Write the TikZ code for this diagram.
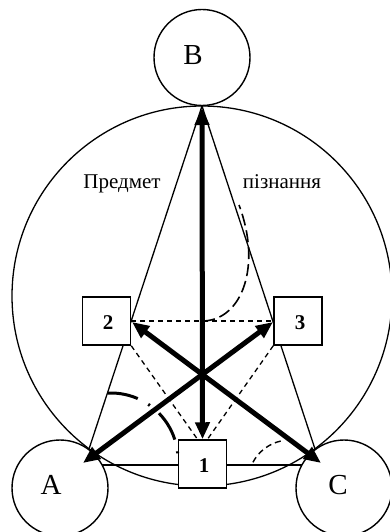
\documentclass[tikz,border=0pt]{standalone}
\usepackage{fontspec}
\setmainfont{Liberation Serif}
\usetikzlibrary{arrows.meta}
\begin{document}
\begin{tikzpicture}[x=1pt,y=-1pt,
  thin line/.style={line width=1.3pt},
  box/.style={draw,line width=1.5pt,fill=white,minimum width=48pt,minimum height=48pt,inner sep=0pt},
  num/.style={font=\fontsize{21}{21}\selectfont\bfseries},
  ring/.style={draw,line width=1.4pt,fill=white,circle,minimum size=96pt,inner sep=0pt},
  big/.style={-,line width=5pt,{Triangle[length=17pt,width=14pt]}-{Triangle[length=17pt,width=14pt]}},
  dsh/.style={line width=1.3pt,dash pattern=on 5pt off 4pt},
  lab/.style={font=\fontsize{29}{29}\selectfont},
  txt/.style={font=\fontsize{21}{21}\selectfont,anchor=base}]
\useasboundingbox (0,0) rectangle (389,532);
% big circle
\draw[line width=1.3pt] (202,296) circle[radius=190pt];
% tangent points
\coordinate (TB) at (202,106);
\coordinate (TA) at (89,449);
\coordinate (TC) at (315,449);
\coordinate (HA) at (60,465);
\coordinate (HC) at (344,465);
% thin lines
\draw[thin line] (TB) -- (TA);
\draw[thin line] (TB) -- (TC);
\draw[thin line] (HA) -- (HC);
% circles
\node[ring] (B) at (202,57.5) {};
\node[ring] (A) at (60,488) {};
\node[ring] (C) at (344,488) {};
\node[lab] (lB) at (193,55) {B};
\node[lab] (lA) at (51,485) {A};
\node[lab] (lC) at (338,485) {C};
% boxes
\node[box] (n1) at (202.5,464) {};
\node[box] (n2) at (106.5,321) {};
\node[box] (n3) at (298,321) {};
\node[num] (l1) at (204,466) {1};
\node[num] (l2) at (108,323) {2};
\node[num] (l3) at (300,323) {3};
% dashed lines
\draw[dsh] (n2.east) -- (n3.west);
\draw[dsh] (n2.south east) -- ([xshift=-5pt]n1.north);
\draw[dsh] (n3.south west) -- ([xshift=5pt]n1.north);
% dashed arc top right
\draw[line width=1.6pt,dash pattern=on 12pt off 5pt] (203,321) .. controls (242,320) and (262,266) .. (239,205);
% dash-dot arc near A
\draw[line width=3pt,dash pattern=on 31pt off 12pt on 2pt off 12pt] (111,460) ++(93:67pt) arc[start angle=93,end angle=2,radius=67pt];
% dashed arc near C
\draw[line width=1.4pt,dash pattern=on 6pt off 4pt] (290,482) ++(152:42pt) arc[start angle=152,end angle=102,radius=42pt];
% thick arrows
\coordinate (tA) at (83,463);
\coordinate (tC) at (321,463);
\coordinate (t2) at (132,322);
\coordinate (t3) at (273,322);
\draw[big] (202,108) -- (n1.north);
\draw[big] (tA) -- (t3);
\draw[big] (tC) -- (t2);
% texts
\node[txt] (p1) at (122,188) {Предмет};
\node[txt] (p2) at (282,188) {пізнання};
\end{tikzpicture}
\end{document}
